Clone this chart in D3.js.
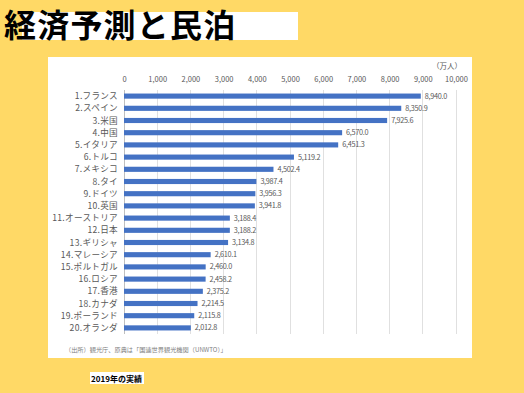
<!DOCTYPE html>
<html><head><meta charset="utf-8">
<script src="https://cdn.jsdelivr.net/npm/d3@7"></script>
<style>
html,body{margin:0;padding:0;background:#FFD966;}
svg{display:block;}
</style></head>
<body>
<script>
const categories = ["1.フランス","2.スペイン","3.米国","4.中国","5.イタリア","6.トルコ","7.メキシコ","8.タイ","9.ドイツ","10.英国","11.オーストリア","12.日本","13.ギリシャ","14.マレーシア","15.ポルトガル","16.ロシア","17.香港","18.カナダ","19.ポーランド","20.オランダ"];
const values = [8940.0,8350.9,7925.6,6570.0,6451.3,5119.2,4502.4,3987.4,3956.3,3941.8,3188.4,3188.2,3134.8,2610.1,2460.0,2458.2,2375.2,2214.5,2115.8,2012.8];
const tickValues = [0,1000,2000,3000,4000,5000,6000,7000,8000,9000,10000];
const titleText = "経済予測と民泊";
const unitText = "（万人）";
const sourceText = "（出所）観光庁、原典は「国連世界観光機関（UNWTO）」";
const noteText = "2019年の実績";

const W = 524, H = 393;
const svg = d3.select("body").append("svg").attr("width", W).attr("height", H);
svg.append("rect").attr("width", W).attr("height", H).attr("fill", "#FFD966");

// title
svg.append("rect").attr("x", 22).attr("y", 12).attr("width", 276).attr("height", 28).attr("fill", "#fff");
svg.append("text").attr("x", 4).attr("y", 37).text(titleText)
  .attr("font-family", "'Noto Sans CJK JP'").attr("font-weight", 700)
  .attr("font-size", 32).attr("fill", "#000").attr("letter-spacing", 1.2);

// panel
svg.append("rect").attr("x", 48).attr("y", 57).attr("width", 424).attr("height", 301).attr("fill", "#fff");

const x = d3.scaleLinear().domain([0, 10000]).range([124, 456]);
const y = d3.scaleBand().domain(categories).range([90, 334]).paddingInner(0.58).paddingOuter(0.29);

const fam = "'Noto Sans CJK JP', 'Noto Sans', sans-serif";

// gridlines
svg.append("g").selectAll("line").data(tickValues).join("line")
  .attr("x1", d => x(d)).attr("x2", d => x(d)).attr("y1", 90).attr("y2", 334)
  .attr("stroke", d => d === 0 ? "#bfbfbf" : "#e0e0e0").attr("stroke-width", 1).attr("shape-rendering", "crispEdges");

// top axis labels
const ax = svg.append("g").attr("transform", "translate(0,82)")
  .call(d3.axisTop(x).tickValues(tickValues).tickSize(0).tickPadding(0)
    .tickFormat(d => d3.format(",")(d)));
ax.select(".domain").remove();
ax.selectAll("text").attr("font-family", fam).attr("font-size", 7.5).attr("fill", "#595959");

svg.append("text").attr("x", 462).attr("y", 69).attr("text-anchor", "end").text(unitText)
  .attr("font-family", fam).attr("font-size", 7.5).attr("fill", "#595959");

// bars
svg.append("g").selectAll("rect").data(values).join("rect")
  .attr("x", x(0)).attr("y", (d, i) => y(categories[i]))
  .attr("width", d => x(d) - x(0)).attr("height", y.bandwidth())
  .attr("fill", "#4472C4");

// category labels
svg.append("g").selectAll("text").data(categories).join("text")
  .attr("x", 118).attr("y", d => y(d) + y.bandwidth() / 2).attr("dy", "0.35em")
  .attr("text-anchor", "end").text(d => d)
  .attr("font-family", fam).attr("font-size", 8.6).attr("fill", "#595959").attr("letter-spacing", 0.3);

// value labels
svg.append("g").selectAll("text").data(values).join("text")
  .attr("x", d => x(d) + 4).attr("y", (d, i) => y(categories[i]) + y.bandwidth() / 2).attr("dy", "0.35em")
  .text(d => d3.format(",.1f")(d))
  .attr("font-family", fam).attr("font-size", 7.3).attr("fill", "#595959").attr("letter-spacing", -0.3);

// source
svg.append("text").attr("x", 65).attr("y", 352).text(sourceText)
  .attr("font-family", fam).attr("font-size", 6.2).attr("fill", "#7f7f7f");

// note
svg.append("rect").attr("x", 90).attr("y", 372).attr("width", 54).attr("height", 12).attr("fill", "#fff");
svg.append("text").attr("x", 91).attr("y", 381.5).text(noteText)
  .attr("font-family", fam).attr("font-size", 8).attr("font-weight", 700).attr("fill", "#000");
</script>
</body></html>
